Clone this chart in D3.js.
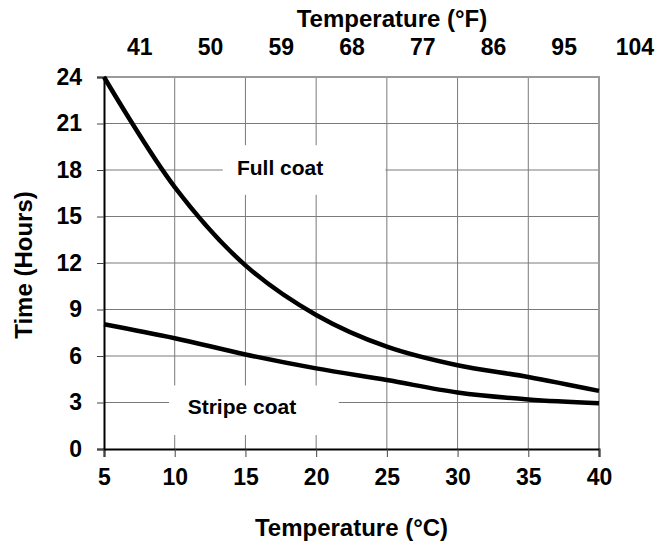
<!DOCTYPE html>
<html>
<head>
<meta charset="utf-8">
<script src="https://cdn.jsdelivr.net/npm/d3@7"></script>
<style>
  body { margin: 0; background: #fff; }
  text { font-family: "Liberation Sans", Arial, sans-serif; font-weight: bold; fill: #000; }
</style>
</head>
<body>
<div id="chart"></div>
<script>
// Data
const tempC = [5, 10, 15, 20, 25, 30, 35, 40];
const fullCoat = [24, 16.9, 11.85, 8.65, 6.6, 5.4, 4.65, 3.75];
const stripeCoat = [8.05, 7.15, 6.1, 5.2, 4.45, 3.65, 3.2, 2.95];
const yTicks = [0, 3, 6, 9, 12, 15, 18, 21, 24];
const fTicks = [41, 50, 59, 68, 77, 86, 95, 104];

const W = 658, H = 547;
const plot = { left: 104, right: 599, top: 77, bottom: 449 };

const svg = d3.select("#chart")
    .append("svg")
    .attr("width", W)
    .attr("height", H);

const x = d3.scaleLinear().domain([5, 40]).range([plot.left, plot.right]);
const y = d3.scaleLinear().domain([0, 24]).range([plot.bottom, plot.top]);
// the °F labels sit half a step right of the gridlines in the original
const xF = d3.scaleLinear().domain([36.5, 99.5]).range([plot.left, plot.right]);

// gridlines
svg.append("g")
    .selectAll("line")
    .data(tempC.slice(1, -1))
    .join("line")
    .attr("x1", d => x(d)).attr("x2", d => x(d))
    .attr("y1", plot.top).attr("y2", plot.bottom)
    .attr("stroke", "#7a7a7a").attr("stroke-width", 1);

svg.append("g")
    .selectAll("line")
    .data(yTicks.slice(1, -1))
    .join("line")
    .attr("x1", plot.left).attr("x2", plot.right)
    .attr("y1", d => y(d)).attr("y2", d => y(d))
    .attr("stroke", "#7a7a7a").attr("stroke-width", 1);

// top and right border
svg.append("path")
    .attr("d", `M${plot.left},${plot.top}H${plot.right}V${plot.bottom}`)
    .attr("fill", "none")
    .attr("stroke", "#9a9a9a")
    .attr("stroke-width", 2);

// white boxes behind the labels
const labels = [
    { text: "Full coat", x0: 13.4, x1: 24.9, y0: 16.4, y1: 19.6, tx: 17.45, ty: 17.7 },
    { text: "Stripe coat", x0: 9.6, x1: 21.6, y0: 0.9, y1: 4.1, tx: 14.75, ty: 2.25 }
];
svg.append("g")
    .selectAll("rect")
    .data(labels)
    .join("rect")
    .attr("x", d => x(d.x0))
    .attr("y", d => y(d.y1))
    .attr("width", d => x(d.x1) - x(d.x0))
    .attr("height", d => y(d.y0) - y(d.y1))
    .attr("fill", "#fff");

svg.append("g")
    .selectAll("text")
    .data(labels)
    .join("text")
    .attr("x", d => x(d.tx))
    .attr("y", d => y(d.ty))
    .attr("text-anchor", "middle")
    .style("font-size", "21px")
    .text(d => d.text);

// axes
const xAxis = svg.append("g")
    .attr("transform", `translate(0,${plot.bottom})`)
    .call(d3.axisBottom(x).tickValues(tempC).tickSize(8).tickPadding(12).tickFormat(d3.format("d")));
xAxis.select(".domain").attr("stroke", "#000").attr("stroke-width", 2);
xAxis.selectAll(".tick line").attr("stroke", "#444");
xAxis.selectAll("text").style("font-size", "23px");

const yAxis = svg.append("g")
    .attr("transform", `translate(${plot.left},0)`)
    .call(d3.axisLeft(y).tickValues(yTicks).tickSize(7).tickPadding(15));
yAxis.select(".domain").attr("stroke", "#000").attr("stroke-width", 2);
yAxis.selectAll(".tick line").attr("stroke", "#444");
yAxis.selectAll("text").style("font-size", "23px");

const topAxis = svg.append("g")
    .attr("transform", "translate(0,55)")
    .call(d3.axisTop(xF).tickValues(fTicks).tickSize(0).tickPadding(0));
topAxis.select(".domain").remove();
topAxis.selectAll("text").attr("dy", 0).style("font-size", "23px");

// curves
const line = d3.line()
    .x((d, i) => x(tempC[i]))
    .y(d => y(d))
    .curve(d3.curveCatmullRom.alpha(0.5));

[fullCoat, stripeCoat].forEach(series => {
    svg.append("path")
        .datum(series)
        .attr("d", line)
        .attr("fill", "none")
        .attr("stroke", "#000")
        .attr("stroke-width", 4.5);
});

// titles
svg.append("text")
    .attr("x", (plot.left + plot.right) / 2)
    .attr("y", 536)
    .attr("text-anchor", "middle")
    .style("font-size", "24px")
    .text("Temperature (°C)");

svg.append("text")
    .attr("x", 392)
    .attr("y", 27)
    .attr("text-anchor", "middle")
    .style("font-size", "24px")
    .text("Temperature (°F)");

svg.append("text")
    .attr("transform", `translate(32,265) rotate(-90)`)
    .attr("text-anchor", "middle")
    .style("font-size", "24px")
    .text("Time (Hours)");
</script>
</body>
</html>
